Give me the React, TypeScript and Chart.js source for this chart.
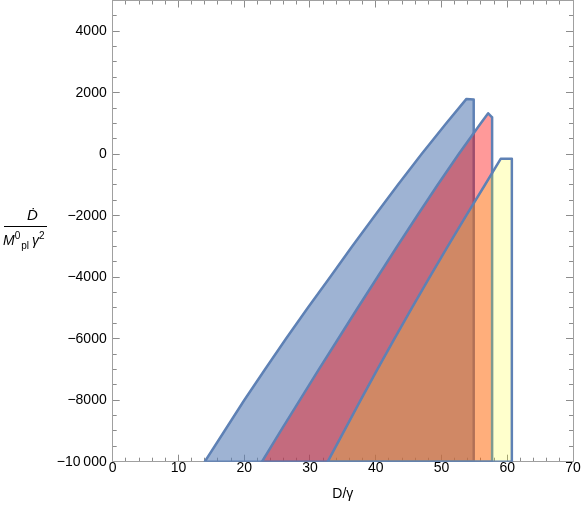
import React, { useEffect, useRef } from 'react';
import { Chart, registerables } from 'chart.js';

Chart.register(...registerables);

// ---- data (polygon outlines) ----
const blueX = [54.9, 14.0, 17.0, 20.0, 23.15, 26.35, 29.65, 33.05, 36.4, 39.85, 43.35, 46.95, 50.7, 53.8, 54.9, 54.9];
const blueY = [-10000, -10000, -9000, -8000, -7000, -6000, -5000, -4000, -3000, -2000, -1000, 0, 1000, 1800, 1780, -10000];

const redX = [57.7, 22.7, 25.55, 28.45, 31.35, 34.3, 37.25, 40.25, 43.25, 46.3, 49.4, 52.6, 55.95, 57.1, 57.7, 57.7];
const redY = [-10000, -10000, -9000, -8000, -7000, -6000, -5000, -4000, -3000, -2000, -1000, 0, 1000, 1330, 1200, -10000];

const yellowX = [60.7, 32.7, 35.2, 37.7, 40.25, 42.85, 45.5, 48.2, 50.95, 53.75, 56.6, 59.0, 60.7, 60.7];
const yellowY = [-10000, -10000, -9000, -8000, -7000, -6000, -5000, -4000, -3000, -2000, -1000, -150, -150, -10000];

const xMajorTicks = [0, 10, 20, 30, 40, 50, 60, 70];
const xTickLabels = ['0', '10', '20', '30', '40', '50', '60', '70'];
const yMajorTicks = [-10000, -8000, -6000, -4000, -2000, 0, 2000, 4000];
const yTickLabels = ['\u221210\u2009000', '\u22128000', '\u22126000', '\u22124000', '\u22122000', '0', '2000', '4000'];

const X_MIN = 0, X_MAX = 70, Y_MIN = -10000, Y_MAX = 5000;
const X_MINOR_STEP = 2, Y_MINOR_STEP = 500;

const FONT = "'Liberation Sans', Arial, sans-serif";
const FRAME = '#a0a0a0';
const TICK = '#8c8c8c';
const EDGE = '#5e81b5';

const pts = (xs: number[], ys: number[]) => xs.map((x, i) => ({ x, y: ys[i] }));

export default function App() {
  const ref = useRef<HTMLCanvasElement | null>(null);

  useEffect(() => {
    if (!ref.current) return;
    const mk = (
      position: string,
      isX: boolean,
      major: boolean,
      size: number,
      extra: any = {}
    ) => ({
      type: 'linear',
      position,
      min: isX ? X_MIN : Y_MIN,
      max: isX ? X_MAX : Y_MAX,
      weight: major ? 1 : 0,
      ticks: major
        ? { display: false }
        : { display: false, stepSize: isX ? X_MINOR_STEP : Y_MINOR_STEP },
      grid: {
        drawOnChartArea: false,
        drawTicks: true,
        tickLength: major ? -7 : -4,
        tickColor: TICK,
        tickWidth: 1,
      },
      border: { display: major, color: FRAME, width: 1 },
      afterBuildTicks: major
        ? (s: any) => {
            s.ticks = (isX ? xMajorTicks : yMajorTicks).map((v) => ({ value: v }));
          }
        : undefined,
      afterFit: (s: any) => {
        if (isX) s.height = size;
        else s.width = size;
        s.paddingTop = 0;
        s.paddingBottom = 0;
        s.paddingLeft = 0;
        s.paddingRight = 0;
      },
      ...extra,
    });

    const ds = (label: string, xs: number[], ys: number[], order: number, bg: string) => ({
      label,
      data: pts(xs, ys),
      order,
      fill: 'shape',
      backgroundColor: bg,
      borderColor: EDGE,
      borderWidth: 2.5,
      borderJoinStyle: 'round',
      pointRadius: 0,
      tension: 0,
    });

    const chart = new Chart(ref.current, {
      type: 'line',
      data: {
        datasets: [
          ds('yellow', yellowX, yellowY, 1, 'rgba(255,255,0,0.2)'),
          ds('red', redX, redY, 2, 'rgba(255,0,0,0.4)'),
          ds('blue', blueX, blueY, 3, 'rgba(94,129,181,0.6)'),
        ],
      },
      options: {
        animation: false,
        responsive: true,
        maintainAspectRatio: false,
        layout: { padding: 0 },
        plugins: { legend: { display: false }, tooltip: { enabled: false } },
        scales: {
          x: mk('bottom', true, true, 51.3, {
            ticks: {
              display: true,
              autoSkip: false,
              maxRotation: 0,
              padding: 5,
              color: '#000',
              font: { family: FONT, size: 14 },
              callback: (v: any) => xTickLabels[xMajorTicks.indexOf(Number(v))] ?? '',
            },
            title: {
              display: true,
              text: 'D/\u03b3',
              color: '#000',
              font: { family: FONT, size: 14 },
              padding: { top: 0, bottom: 10.6 },
            },
          }),
          xMinor: mk('bottom', true, false, 0),
          xTop: mk('top', true, true, 0.5),
          xTopMinor: mk('top', true, false, 0),
          y: mk('left', false, true, 112.7, {
            ticks: {
              display: true,
              autoSkip: false,
              padding: 13,
              color: '#000',
              font: { family: FONT, size: 14 },
              callback: (v: any) => yTickLabels[yMajorTicks.indexOf(Number(v))] ?? '',
            },
          }),
          yMinor: mk('left', false, false, 0),
          yRight: mk('right', false, true, 8),
          yRightMinor: mk('right', false, false, 0),
        },
      } as any,
    } as any);
    return () => chart.destroy();
  }, []);

  const txt: React.CSSProperties = { position: 'absolute', fontFamily: FONT, color: '#000', whiteSpace: 'nowrap', lineHeight: 1 };

  return (
    <div style={{ position: 'absolute', left: 0, top: 0, width: 581, height: 513, background: '#fff' }}>
      <canvas ref={ref} />
      <div style={{ ...txt, left: 10, top: 207, width: 45, textAlign: 'center', fontSize: 15, fontStyle: 'italic' }}>
        {'\u1E0A'}
      </div>
      <div style={{ position: 'absolute', left: 4, top: 226, width: 43, height: 1, background: '#000' }} />
      <div style={{ ...txt, left: 3, top: 233, fontSize: 14 }}>
        <span style={{ fontStyle: 'italic' }}>M</span>
        <span style={{ fontSize: 10, position: 'relative', top: -6 }}>0</span>
        <span style={{ fontSize: 10, position: 'relative', top: 4, marginLeft: 1 }}>pl</span>
        <span style={{ fontStyle: 'italic', marginLeft: 3 }}>{'\u03b3'}</span>
        <span style={{ fontSize: 10, position: 'relative', top: -6 }}>2</span>
      </div>
    </div>
  );
}
